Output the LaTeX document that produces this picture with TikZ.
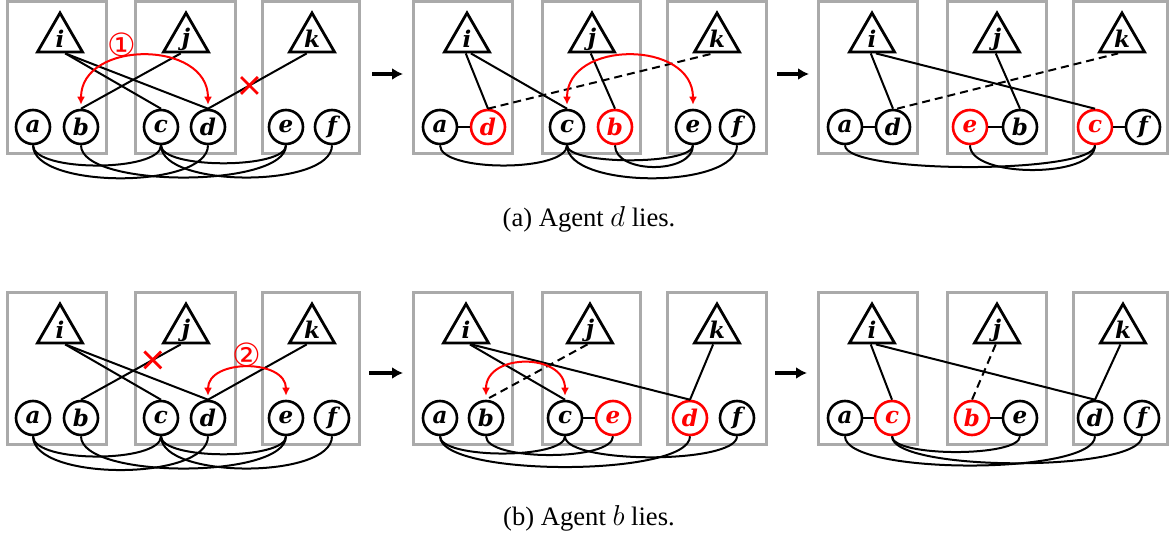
\documentclass[tikz,border=0pt]{standalone}
\usepackage{fontspec}
\setmainfont{Liberation Serif}
\newfontfamily\lblfont{DejaVu Serif}
\newfontfamily\circfont{DejaVu Sans}
\usetikzlibrary{shapes.geometric,shapes.misc,arrows.meta}
\definecolor{boxgray}{RGB}{170,170,170}
\tikzset{
  agent/.style={circle, draw, line width=1.3pt, minimum size=17pt, inner sep=0pt,
    font=\lblfont\bfseries\itshape\fontsize{11.5}{11.5}\selectfont},
  ragent/.style={agent, draw=red, text=red},
  itemtxt/.style={inner sep=0pt, font=\lblfont\bfseries\itshape\fontsize{11.5}{11.5}\selectfont},
  item/.style={regular polygon, regular polygon sides=3, draw, line width=1.4pt,
    minimum size=26pt, inner sep=0pt, label={[itemtxt]center:#1}},
  grp/.style={draw=boxgray, line width=1.5pt},
  edge/.style={line width=1pt},
  dedge/.style={line width=1pt, dash pattern=on 4pt off 2.5pt},
  pref/.style={line width=1pt},
  swaparc/.style={red, line width=1pt, {Latex[length=4pt,width=4pt]}-{Latex[length=4pt,width=4pt]}},
  stepar/.style={line width=1.7pt, -{Latex[length=5.5pt,width=6pt]}},
  xmark/.style={cross out, draw=red, line width=1.4pt, minimum size=7pt, inner sep=0pt},
  numlbl/.style={text=red, font=\circfont\fontsize{16}{16}\selectfont},
  captxt/.style={font=\fontsize{13.3}{15}\selectfont}
}
\begin{document}
\begin{tikzpicture}[x=0.5pt,y=-0.5pt]
\useasboundingbox (0,0) rectangle (1169,533);
% boxes
\foreach \l/\r in {7/106,135/235,262/359,413/512,542/640,667/766,818/917,947/1046,1073/1167}{
  \draw[grp] (\l,2) rectangle (\r,154);
  \draw[grp] (\l,293) rectangle (\r,445);
}
% ===== Panel 1 =====
\node[item=i] (p1i) at (60,39) {};
\node[item=j] (p1j) at (186,39) {};
\node[item=k] (p1k) at (312,39) {};
\node[agent] (p1a) at (33,127) {a};
\node[agent] (p1b) at (81,127) {b};
\node[agent] (p1c) at (161,127) {c};
\node[agent] (p1d) at (208,127) {d};
\node[agent] (p1e) at (286,127) {e};
\node[agent] (p1f) at (332,127) {f};
\draw[edge] (p1i.-70) -- (p1c.north);
\draw[edge] (p1i.-70) -- (p1d.north);
\draw[edge] (p1j.-110) -- (p1b.north);
\draw[edge] (p1k.-110) -- (p1d.north) node[xmark, pos=0.58] (p1x) {};
\draw[pref] (p1a.south) .. controls +(0,27) and +(0,27) .. (p1c.south);
\draw[pref] (p1a.south) .. controls +(0,44) and +(0,44) .. (p1d.south);
\draw[pref] (p1b.south) .. controls +(0,43) and +(0,43) .. (p1e.south);
\draw[pref] (p1c.south) .. controls +(0,24) and +(0,24) .. (p1e.south);
\draw[pref] (p1c.south) .. controls +(0,43) and +(0,43) .. (p1f.south);
\draw[swaparc] ([yshift=2pt]p1b.north) .. controls +(0,-65) and +(0,-65) .. ([yshift=2pt]p1d.north);
\node[numlbl] (p1n) at (122,45) {①};
% arrow
\coordinate (s1a) at (372,74); \coordinate (s1b) at (403,74);
\draw[stepar] (s1a) -- (s1b);
% ===== Panel 2 =====
\node[item=i] (p2i) at (467,39) {};
\node[item=j] (p2j) at (592,39) {};
\node[item=k] (p2k) at (717,39) {};
\node[agent] (p2a) at (440,127) {a};
\node[ragent] (p2d) at (488,127) {d};
\node[agent] (p2c) at (567,127) {c};
\node[ragent] (p2b) at (615,127) {b};
\node[agent] (p2e) at (693,127) {e};
\node[agent] (p2f) at (737,127) {f};
\draw[edge] (p2a.east) -- (p2d.west);
\draw[edge] (p2i.-95) -- (p2d.north);
\draw[edge] (p2i.-75) -- (p2c.north);
\draw[edge] (p2j.-95) -- (p2b.north);
\draw[dedge] (p2d.north) -- (p2k.-105);
\draw[pref] (p2a.south) .. controls +(0,27) and +(0,27) .. (p2c.south);
\draw[pref] (p2c.south) .. controls +(0,20) and +(0,20) .. (p2e.south);
\draw[pref] (p2b.south) .. controls +(0,29) and +(0,29) .. (p2e.south);
\draw[pref] (p2c.south) .. controls +(0,44) and +(0,44) .. (p2f.south);
\draw[swaparc] ([yshift=2pt]p2c.north) .. controls +(0,-65) and +(0,-65) .. ([yshift=2pt]p2e.north);
\coordinate (s2a) at (777,74); \coordinate (s2b) at (809,74);
\draw[stepar] (s2a) -- (s2b);
% ===== Panel 3 =====
\node[item=i] (p3i) at (872,39) {};
\node[item=j] (p3j) at (997,39) {};
\node[item=k] (p3k) at (1122,39) {};
\node[agent] (p3a) at (845,127) {a};
\node[agent] (p3d) at (893,127) {d};
\node[ragent] (p3e) at (970,127) {e};
\node[agent] (p3b) at (1020,127) {b};
\node[ragent] (p3c) at (1095,127) {c};
\node[agent] (p3f) at (1143,127) {f};
\draw[edge] (p3a.east) -- (p3d.west);
\draw[edge] (p3e.east) -- (p3b.west);
\draw[edge] (p3c.east) -- (p3f.west);
\draw[edge] (p3i.-95) -- (p3d.north);
\draw[edge] (p3i.-75) -- (p3c.north);
\draw[edge] (p3j.-95) -- (p3b.north);
\draw[dedge] ([xshift=2pt]p3d.north) -- (p3k.-105);
\draw[pref] (p3a.south) .. controls +(0,29) and +(0,29) .. (p3c.south);
\draw[pref] (p3e.south) .. controls +(0,33) and +(0,33) .. (p3c.south);
% caption a
\node[captxt] (capa) at (589,219) {(a) Agent $d$ lies.};
% ===== Panel 4 =====
\node[item=i] (p4i) at (60,330) {};
\node[item=j] (p4j) at (186,330) {};
\node[item=k] (p4k) at (312,330) {};
\node[agent] (p4a) at (33,418) {a};
\node[agent] (p4b) at (81,418) {b};
\node[agent] (p4c) at (161,418) {c};
\node[agent] (p4d) at (208,418) {d};
\node[agent] (p4e) at (286,418) {e};
\node[agent] (p4f) at (332,418) {f};
\draw[edge] (p4i.-70) -- (p4c.north);
\draw[edge] (p4i.-70) -- (p4d.north);
\draw[edge] (p4j.-110) -- (p4b.north) node[xmark, pos=0.28] (p4x) {};
\draw[edge] (p4k.-110) -- (p4d.north);
\draw[pref] (p4a.south) .. controls +(0,27) and +(0,27) .. (p4c.south);
\draw[pref] (p4a.south) .. controls +(0,45) and +(0,45) .. (p4d.south);
\draw[pref] (p4b.south) .. controls +(0,43) and +(0,43) .. (p4e.south);
\draw[pref] (p4c.south) .. controls +(0,24) and +(0,24) .. (p4e.south);
\draw[pref] (p4c.south) .. controls +(0,43) and +(0,43) .. (p4f.south);
\draw[swaparc] ([yshift=2pt]p4d.north) .. controls +(0,-37) and +(0,-37) .. ([yshift=2pt]p4e.north);
\node[numlbl] (p4n) at (247,355) {②};
\coordinate (s3a) at (369,373); \coordinate (s3b) at (403,373);
\draw[stepar] (s3a) -- (s3b);
% ===== Panel 5 =====
\node[item=i] (p5i) at (466,330) {};
\node[item=j] (p5j) at (590,330) {};
\node[item=k] (p5k) at (717,330) {};
\node[agent] (p5a) at (440,418) {a};
\node[agent] (p5b) at (486,418) {b};
\node[agent] (p5c) at (565,418) {c};
\node[ragent] (p5e) at (613,418) {e};
\node[ragent] (p5d) at (690,418) {d};
\node[agent] (p5f) at (737,418) {f};
\draw[edge] (p5c.east) -- (p5e.west);
\draw[edge] (p5i.-75) -- (p5c.north);
\draw[edge] (p5i.-70) -- (p5d.north);
\draw[edge] (p5k.-105) -- (p5d.north);
\draw[dedge] (p5j.-100) -- (p5b.north);
\draw[pref] (p5a.south) .. controls +(0,23) and +(0,23) .. (p5c.south);
\draw[pref] (p5a.south) .. controls +(0,41) and +(0,41) .. (p5d.south);
\draw[pref] (p5b.south) .. controls +(0,25) and +(0,25) .. (p5e.south);
\draw[pref] (p5c.south) .. controls +(0,28) and +(0,28) .. (p5f.south);
\draw[swaparc] ([yshift=2pt]p5b.north) .. controls +(0,-43) and +(0,-43) .. ([yshift=2pt]p5c.north);
\coordinate (s4a) at (775,373); \coordinate (s4b) at (807,373);
\draw[stepar] (s4a) -- (s4b);
% ===== Panel 6 =====
\node[item=i] (p6i) at (872,330) {};
\node[item=j] (p6j) at (997,330) {};
\node[item=k] (p6k) at (1123,330) {};
\node[agent] (p6a) at (845,418) {a};
\node[ragent] (p6c) at (892,418) {c};
\node[ragent] (p6b) at (972,418) {b};
\node[agent] (p6e) at (1020,418) {e};
\node[agent] (p6d) at (1095,418) {d};
\node[agent] (p6f) at (1142,418) {f};
\draw[edge] (p6a.east) -- (p6c.west);
\draw[edge] (p6b.east) -- (p6e.west);
\draw[edge] (p6i.-95) -- (p6c.north);
\draw[edge] (p6i.-75) -- (p6d.north);
\draw[dedge] (p6j.-95) -- (p6b.north);
\draw[edge] (p6k.-100) -- (p6d.north);
\draw[pref] (p6c.south) .. controls +(0,21) and +(0,21) .. (p6e.south);
\draw[pref] (p6a.south) .. controls +(0,39) and +(0,39) .. (p6d.south);
\draw[pref] (p6c.south) .. controls +(0,36) and +(0,36) .. (p6f.south);
% caption b
\node[captxt] (capb) at (589,518) {(b) Agent $b$ lies.};
\end{tikzpicture}
\end{document}
